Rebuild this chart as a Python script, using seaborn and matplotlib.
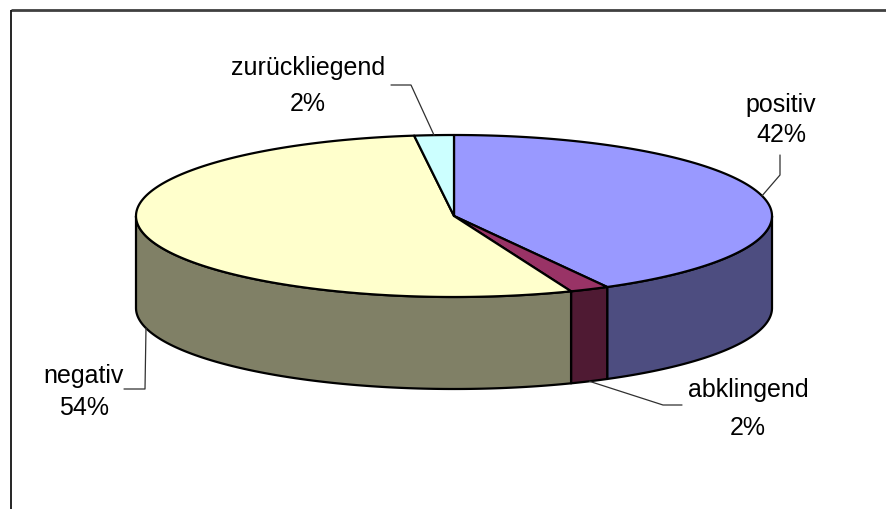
import numpy as np
import matplotlib
matplotlib.use("Agg")
import matplotlib.pyplot as plt
from matplotlib.patches import Polygon
import seaborn as sns

# Data
categories = ["positiv", "abklingend", "negativ", "zurückliegend"]
shares = [42, 2, 54, 2]
top_colors = ["#9999FF", "#993366", "#FFFFCC", "#CCFFFF"]
side_colors = ["#4D4D80", "#4F1A33", "#808066", "#668080"]

sns.set_theme(style="white")
plt.rcParams["font.family"] = ["Liberation Sans", "DejaVu Sans"]

W, H = 887, 510
fig = plt.figure(figsize=(W / 100, H / 100), dpi=100)
ax = fig.add_axes([0, 0, 1, 1])
ax.set_xlim(0, W)
ax.set_ylim(H, 0)
ax.axis("off")

# chart-area frame (only top and left edges fall inside the figure)
ax.plot([11, W], [11, 11], color="#404040", lw=2, solid_capstyle="butt")
ax.plot([11, 11], [11, H], color="#000000", lw=1.2, solid_capstyle="butt")

# 3D pie geometry: ellipse centre, radii and thickness
cx, cy, rx, ry, depth = 454, 217, 318, 81, 92


def rim(t, dz=0.0):
    """Point on the ellipse rim at angle t (clockwise from 12 o'clock)."""
    return cx + rx * np.sin(t), cy - ry * np.cos(t) + dz


fracs = np.array(shares, dtype=float) / np.sum(shares)
bounds = np.concatenate([[0.0], np.cumsum(fracs)]) * 2 * np.pi

edge_kw = dict(edgecolor="black", linewidth=1.6, joinstyle="round")

# side walls: only the front half (90deg .. 270deg) is visible
for i in range(len(shares)):
    a0 = max(bounds[i], np.pi / 2)
    a1 = min(bounds[i + 1], 3 * np.pi / 2)
    if a1 <= a0:
        continue
    t = np.linspace(a0, a1, 120)
    xs, ys = rim(t)
    xb, yb = rim(t[::-1], depth)
    pts = np.column_stack([np.concatenate([xs, xb]), np.concatenate([ys, yb])])
    ax.add_patch(Polygon(pts, closed=True, facecolor=side_colors[i], **edge_kw))

# top face wedges
for i in range(len(shares)):
    t = np.linspace(bounds[i], bounds[i + 1], 240)
    xs, ys = rim(t)
    pts = np.column_stack([np.concatenate([[cx], xs]), np.concatenate([[cy], ys])])
    ax.add_patch(Polygon(pts, closed=True, facecolor=top_colors[i], **edge_kw))

# data labels with leader lines
# (label centre x, name baseline, percent baseline, leader elbow, leader end, on bottom rim)
label_layout = {
    "positiv": (781, 112, 142, (780, 176), (780, 156), False),
    "abklingend": (748, 397, 435, (663, 406), (682, 406), True),
    "negativ": (84, 383, 415, (145, 390), (124, 390), True),
    "zurückliegend": (308, 75, 111, (411, 86), (391, 86), False),
}

for i, name in enumerate(categories):
    lx, yb1, yb2, elbow, end, bottom = label_layout[name]
    mid = 0.5 * (bounds[i] + bounds[i + 1])
    ax_, ay_ = rim(mid, depth if bottom else 0.0)
    ax.plot([ax_, elbow[0], end[0]], [ay_, elbow[1], end[1]],
            color="#303030", lw=0.9, zorder=1)
    ax.text(lx, yb1, name, ha="center", va="baseline", fontsize=18, color="black")
    ax.text(lx, yb2, f"{shares[i]}%", ha="center", va="baseline", fontsize=18,
            color="black")

fig.savefig("out.png", dpi=100, facecolor="white")
